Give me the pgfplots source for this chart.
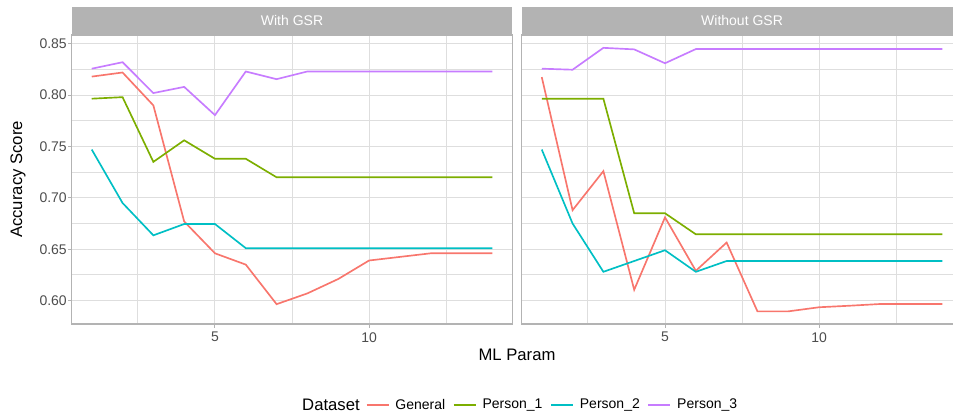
\documentclass[border=0pt]{standalone}
\usepackage{pgfplots}
\pgfplotsset{compat=1.18}
\usepackage{pgfplotstable}
\usepackage{fontspec}
\setmainfont{Liberation Sans}
\definecolor{cGen}{HTML}{F8766D}
\definecolor{cP1}{HTML}{7CAE00}
\definecolor{cP2}{HTML}{00BFC4}
\definecolor{cP3}{HTML}{C77CFF}
\definecolor{grey70}{HTML}{B3B3B3}
\definecolor{grey87}{HTML}{DEDEDE}
\definecolor{grey30}{HTML}{4D4D4D}

\pgfplotstableread{
x gen p1 p2 p3
1 0.818 0.7965 0.747 0.8257
2 0.822 0.798 0.695 0.832
3 0.790 0.735 0.6635 0.802
4 0.677 0.756 0.6745 0.808
5 0.646 0.738 0.6745 0.7805
6 0.635 0.738 0.651 0.823
7 0.5965 0.720 0.651 0.8155
8 0.607 0.720 0.651 0.823
9 0.621 0.720 0.651 0.823
10 0.639 0.720 0.651 0.823
11 0.6425 0.720 0.651 0.823
12 0.646 0.720 0.651 0.823
13 0.646 0.720 0.651 0.823
14 0.646 0.720 0.651 0.823
}\withgsr

\pgfplotstableread{
x gen p1 p2 p3
1 0.8175 0.7965 0.747 0.8257
2 0.688 0.7965 0.675 0.8247
3 0.726 0.7965 0.628 0.846
4 0.6105 0.685 0.6385 0.8445
5 0.681 0.685 0.649 0.831
6 0.629 0.6645 0.628 0.8448
7 0.6565 0.6645 0.6385 0.8448
8 0.5895 0.6645 0.6385 0.8448
9 0.5895 0.6645 0.6385 0.8448
10 0.5935 0.6645 0.6385 0.8448
11 0.595 0.6645 0.6385 0.8448
12 0.5967 0.6645 0.6385 0.8448
13 0.5967 0.6645 0.6385 0.8448
14 0.5967 0.6645 0.6385 0.8448
}\withoutgsr

\pgfplotsset{
  facet/.style={
    scale only axis, width=330.45pt, height=216.75pt,
    anchor=south west,
    xmin=0.35, xmax=14.65, ymin=0.5772, ymax=0.8585,
    xtick={5,10}, minor xtick={2.5,7.5,12.5},
    ytick={0.60,0.65,0.70,0.75,0.80,0.85},
    minor ytick={0.625,0.675,0.725,0.775,0.825},
    grid=both,
    major grid style={draw=grey87, line width=0.75pt},
    minor grid style={draw=grey87, line width=0.75pt},
    axis line style={grey70, line width=1.1pt},
    tick style={draw=grey70, line width=0.75pt},
    tick align=outside, major tick length=2.7pt, minor tick length=0pt,
    xtick pos=bottom, ytick pos=left,
    /pgf/number format/assume math mode=true,
    ticklabel style={font=\fontsize{10.5}{12}\selectfont, text=grey30},
    yticklabel style={inner sep=0.8pt},
    every axis plot/.append style={line width=1.25pt, no marks},
    clip=true,
  },
}

\begin{document}
\begin{tikzpicture}
\path[use as bounding box] (0,0) rectangle (714.75pt,310.5pt);

\begin{axis}[facet, name=left, at={(53.78pt,67.5pt)},
  yticklabel style={/pgf/number format/.cd, fixed, fixed zerofill, precision=2},
  ylabel={Accuracy Score},
  ylabel style={at={(axis description cs:-0.122,0.5)}, anchor=center, font=\fontsize{12.5}{14}\selectfont},
  xlabel={ML Param},
  xlabel style={at={(axis description cs:1.0107,-0.107)}, anchor=center, font=\fontsize{12.5}{14}\selectfont},
  legend columns=4,
  legend style={at={(1.0888,-0.2803)}, anchor=center, draw=none, fill=none,
    font=\fontsize{10.5}{12}\selectfont, column sep=0pt,
    nodes={inner sep=0pt},
    /tikz/every odd column/.append style={column sep=4.5pt},
    /tikz/every even column/.append style={column sep=5.8pt}},
  legend image code/.code={\draw[#1] (0pt,0pt) -- (16.5pt,0pt);},
]
\addplot[cGen] table[x=x,y=gen] {\withgsr};
\addplot[cP1] table[x=x,y=p1] {\withgsr};
\addplot[cP2] table[x=x,y=p2] {\withgsr};
\addplot[cP3] table[x=x,y=p3] {\withgsr};
\legend{General, Person\_1, Person\_2, Person\_3}
\end{axis}
\fill[grey70] (left.north west) rectangle ++(330.45pt,21pt);
\node[text=white, font=\fontsize{10.5}{12}\selectfont] at ([yshift=10.5pt]left.north) {With GSR};

\begin{axis}[facet, name=right, at={(391.3pt,67.5pt)},
  yticklabels={},
  ytick style={draw=none},
]
\addplot[cGen] table[x=x,y=gen] {\withoutgsr};
\addplot[cP1] table[x=x,y=p1] {\withoutgsr};
\addplot[cP2] table[x=x,y=p2] {\withoutgsr};
\addplot[cP3] table[x=x,y=p3] {\withoutgsr};
\end{axis}
\fill[grey70] (right.north west) rectangle ++(330.45pt,21pt);
\node[text=white, font=\fontsize{10.5}{12}\selectfont] at ([yshift=10.5pt]right.north) {Without GSR};

\node[font=\fontsize{12.5}{14}\selectfont, anchor=center] at (248.2pt,6.75pt) {Dataset};
\end{tikzpicture}
\end{document}
